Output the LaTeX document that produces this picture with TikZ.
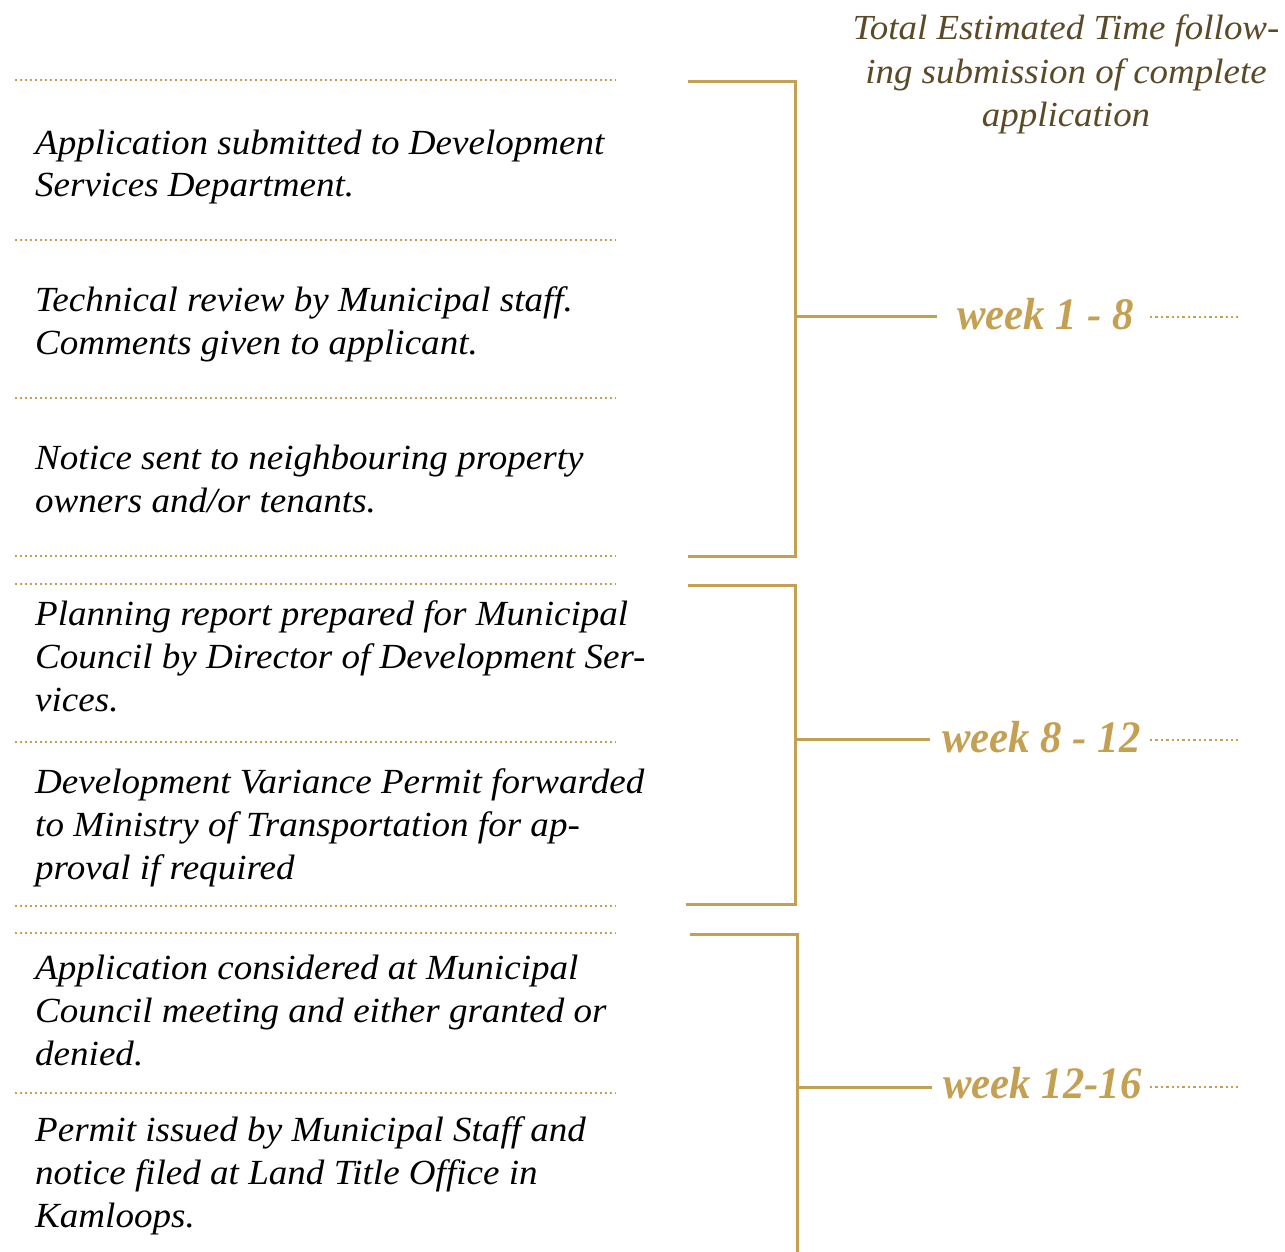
\documentclass[tikz,border=0pt]{standalone}
\usepackage{fontspec}
\setmainfont{Liberation Serif}
\newfontfamily\bodyfont[FakeStretch=1.05]{Liberation Serif}
\newfontfamily\weekfont[FakeStretch=0.95]{Liberation Serif}
\definecolor{gold}{HTML}{C4A052}
\definecolor{titlebrown}{HTML}{5B4A27}
\tikzset{
  x=1pt, y=-1pt,
  sep/.style={gold, line width=1.8pt, dash pattern=on 1.8pt off 3.2pt},
  tail/.style={gold, line width=2.4pt, dash pattern=on 2.4pt off 3pt},
  brk/.style={gold, line width=3pt, line join=miter},
  body/.style={anchor=base west, inner sep=0pt, align=left, font=\bodyfont\itshape\fontsize{35.3}{43}\selectfont, text=black},
  weeklbl/.style={anchor=base west, inner sep=0pt, text=gold, font=\weekfont\bfseries\itshape\fontsize{45}{45}\selectfont},
}
\begin{document}
\begin{tikzpicture}
\useasboundingbox (0,0) rectangle (1285,1252);
% title
\node[anchor=base, inner sep=0pt, align=center, text=titlebrown, font=\bodyfont\itshape\fontsize{35.2}{43.5}\selectfont] (title) at (1066,127) {Total Estimated Time follow-\\ing submission of complete\\application};
% separators
\foreach \yy/\nm in {80/s1,240/s2,398/s3,556/s4,584/s5,742/s6,906/s7,933/s8,1093/s9}{
  \coordinate (\nm a) at (15,\yy);
  \coordinate (\nm b) at (616,\yy);
  \draw[sep] (\nm a) -- (\nm b);
}
% step texts (anchor = baseline of last line)
\node[body] (t1) at (35,197) {Application submitted to Development\\Services Department.};
\node[body] (t2) at (35,354) {Technical review by Municipal staff.\\Comments given to applicant.};
\node[body] (t3) at (35,512) {Notice sent to neighbouring property\\owners and/or tenants.};
\node[body] (t4) at (35,711) {Planning report prepared for Municipal\\Council by Director of Development Ser-\\vices.};
\node[body] (t5) at (35,879) {Development Variance Permit forwarded\\to Ministry of Transportation for ap-\\proval if required};
\node[body] (t6) at (35,1065) {Application considered at Municipal\\Council meeting and either granted or\\denied.};
\node[body] (t7) at (35,1227) {Permit issued by Municipal Staff and\\notice filed at Land Title Office in\\Kamloops.};
% brackets
\coordinate (b1t) at (688,82);  \coordinate (b1c) at (795,82);  \coordinate (b1d) at (795,556);  \coordinate (b1b) at (688,556);
\coordinate (b2t) at (688,585); \coordinate (b2c) at (795,585); \coordinate (b2d) at (795,904);  \coordinate (b2b) at (686,904);
\coordinate (b3t) at (690,934); \coordinate (b3c) at (797,934); \coordinate (b3d) at (797,1252);
\draw[brk] (b1t) -- (b1c) -- (b1d) -- (b1b);
\draw[brk] (b2t) -- (b2c) -- (b2d) -- (b2b);
\draw[brk] (b3t) -- (b3c) -- (b3d);
% week labels
\node[weeklbl] (w1) at (957,329) {week 1 - 8};
\node[weeklbl] (w2) at (942,752) {week 8 - 12};
\node[weeklbl] (w3) at (943,1098) {week 12-16};
\coordinate (m1) at (795,316);  \coordinate (e1) at (937,316);
\coordinate (m2) at (795,739);  \coordinate (e2) at (930,739);
\coordinate (m3) at (797,1087); \coordinate (e3) at (932,1087);
\draw[brk] (m1) -- (e1);
\draw[brk] (m2) -- (e2);
\draw[brk] (m3) -- (e3);
\coordinate (d1a) at (1150,317);  \coordinate (d1b) at (1238,317);
\coordinate (d2a) at (1150,740);  \coordinate (d2b) at (1238,740);
\coordinate (d3a) at (1150,1087); \coordinate (d3b) at (1238,1087);
\draw[tail] (d1a) -- (d1b);
\draw[tail] (d2a) -- (d2b);
\draw[tail] (d3a) -- (d3b);
\end{tikzpicture}
\end{document}
